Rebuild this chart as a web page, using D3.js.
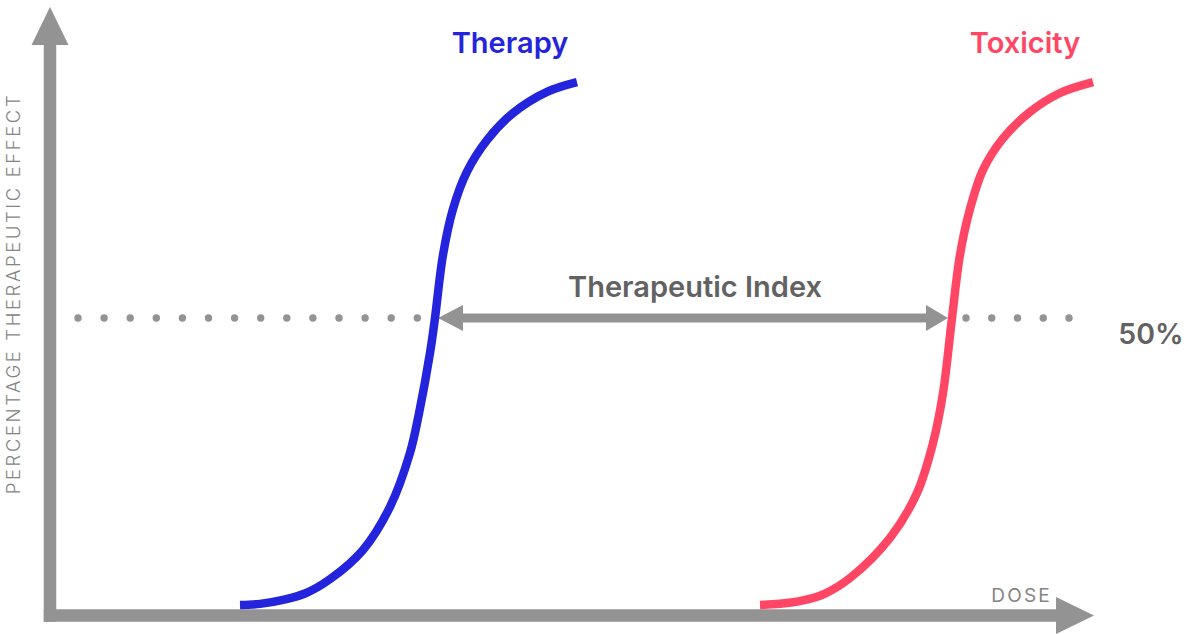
<!DOCTYPE html>
<html>
<head>
<meta charset="utf-8">
<script src="https://cdn.jsdelivr.net/npm/d3@7"></script>
<style>
  html, body { margin: 0; padding: 0; background: #fff; }
  svg { display: block; font-family: Inter, "Noto Sans", sans-serif; }
</style>
</head>
<body>
<svg id="chart" width="1186" height="634"></svg>
<script>
// Dose-response curves (dose in arbitrary units, effect in percent)
const therapyDose   = [18.4, 20.4, 22.7, 24.9, 27.4, 30.7, 33.4, 35.4, 36.3, 37.4, 37.9, 38.7, 39.7, 41.1, 43.1, 45.7, 49.1, 52.1];
const therapyEffect = [0, 0.2, 0.9, 2.0, 4.5, 9.6, 17.1, 26.5, 33.4, 43.9, 50, 61, 69, 75.5, 81, 85.7, 89.4, 91.1];

const toxicityDose   = [70.4, 72.4, 74.7, 76.9, 79.4, 83.4, 86.1, 87.7, 88.7, 89.6, 90.4, 91.4, 92.7, 94.7, 97.4, 100.4, 103.7];
const toxicityEffect = [0, 0.2, 0.8, 2.0, 4.7, 11.7, 19.5, 28.2, 36.9, 50, 61, 69, 75.8, 81.3, 85.9, 89.2, 91.1];

// Effective (ED50) and toxic (TD50) doses at the 50% response level
const referenceLevel = 50;
const ed50 = 37.9;
const td50 = 89.6;

const seriesNames = ["Therapy", "Toxicity"];
const axisLabels = { x: "DOSE", y: "PERCENTAGE THERAPEUTIC EFFECT" };
const indexLabel = "Therapeutic Index";
const levelLabel = "50%";

const colors = { therapy: "#2424dc", toxicity: "#ff4765", axis: "#939393", text: "#626262", axisText: "#858585" };

const svg = d3.select("#chart");

const x = d3.scaleLinear().domain([0, 100]).range([56, 1056]);
const y = d3.scaleLinear().domain([0, 100]).range([605, 31]);

// ---- axes drawn as arrows ----
const axisG = svg.append("g").attr("fill", colors.axis);
const yAxisCx = x(0) - 6, axisW = 12.5;
const xAxisCy = y(0) + 10.5;
// vertical shaft + head
axisG.append("rect").attr("x", yAxisCx - axisW / 2).attr("y", 44).attr("width", axisW).attr("height", xAxisCy + axisW / 2 - 44);
axisG.append("path").attr("d", d3.line()([[yAxisCx - 18.5, 45], [yAxisCx + 18.5, 45], [yAxisCx, 7]]) + "Z");
// horizontal shaft + head
axisG.append("rect").attr("x", yAxisCx - axisW / 2).attr("y", xAxisCy - axisW / 2).attr("width", x(100) - (yAxisCx - axisW / 2) + 1).attr("height", axisW);
axisG.append("path").attr("d", d3.line()([[x(100), xAxisCy - 18.5], [x(100), xAxisCy + 18.5], [x(100) + 38, xAxisCy]]) + "Z");

// ---- dotted 50% reference line ----
const yRef = y(referenceLevel);
function dots(x0, x1, step) {
  svg.append("line")
    .attr("x1", x0).attr("x2", x1 + 0.5).attr("y1", yRef).attr("y2", yRef)
    .attr("stroke", colors.axis).attr("stroke-width", 7.4)
    .attr("stroke-linecap", "round").attr("stroke-dasharray", `0 ${step}`);
}
dots(78, 417.3, 26.1);
dots(x(td50) + 14, x(td50) + 117, 25.75);

// ---- therapeutic index double arrow ----
const arrowG = svg.append("g").attr("fill", colors.axis);
const aL = x(ed50) + 3, aR = x(td50) - 4;
arrowG.append("rect").attr("x", aL + 20).attr("y", yRef - 4.5).attr("width", aR - aL - 40).attr("height", 9);
arrowG.append("path").attr("d", d3.line()([[aL, yRef], [aL + 25, yRef - 13], [aL + 25, yRef + 13]]) + "Z");
arrowG.append("path").attr("d", d3.line()([[aR, yRef], [aR - 22, yRef - 13], [aR - 22, yRef + 13]]) + "Z");

// ---- curves ----
const line = d3.line().x(d => x(d[0])).y(d => y(d[1])).curve(d3.curveCatmullRom.alpha(0.5));
svg.append("path")
  .attr("d", line(d3.zip(therapyDose, therapyEffect)))
  .attr("fill", "none").attr("stroke", colors.therapy).attr("stroke-width", 8.5);
svg.append("path")
  .attr("d", line(d3.zip(toxicityDose, toxicityEffect)))
  .attr("fill", "none").attr("stroke", colors.toxicity).attr("stroke-width", 8.5);

// ---- labels ----
svg.append("text").text(seriesNames[0])
  .attr("x", 510).attr("y", 52.5).attr("text-anchor", "middle")
  .attr("font-size", 29).attr("font-weight", 600).attr("fill", colors.therapy);
svg.append("text").text(seriesNames[1])
  .attr("x", 1025).attr("y", 52.5).attr("text-anchor", "middle")
  .attr("font-size", 29).attr("font-weight", 600).attr("fill", colors.toxicity);

svg.append("text").text(indexLabel)
  .attr("x", 695).attr("y", 297).attr("text-anchor", "middle")
  .attr("font-size", 29).attr("font-weight", 600).attr("fill", colors.text);

svg.append("text").text(levelLabel)
  .attr("x", 1151).attr("y", 343.5).attr("text-anchor", "middle")
  .attr("font-size", 28.5).attr("font-weight", 600).attr("fill", colors.text);

svg.append("text").text(axisLabels.x)
  .attr("x", 1052).attr("y", 602.3).attr("text-anchor", "end")
  .attr("font-size", 19).attr("font-weight", 400).attr("letter-spacing", 2.2).attr("fill", colors.axisText);

svg.append("text").text(axisLabels.y)
  .attr("transform", "translate(19.5,293.5) rotate(-90)")
  .attr("text-anchor", "middle")
  .attr("font-size", 18.5).attr("font-weight", 300).attr("letter-spacing", 2.6).attr("fill", colors.axisText);
</script>
</body>
</html>
